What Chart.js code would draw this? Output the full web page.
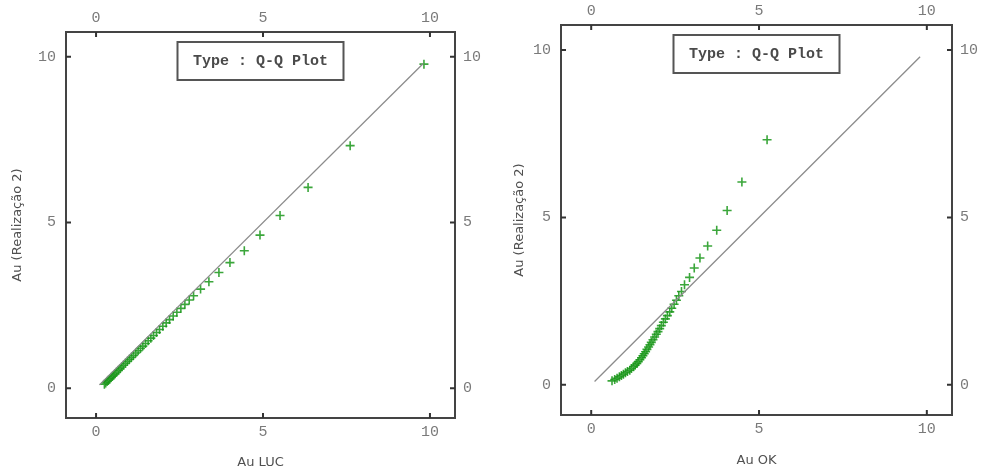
<!DOCTYPE html>
<html lang="pt">
<head>
  <meta charset="UTF-8">
  <title>Q-Q Plot</title>
  <script src="https://cdn.jsdelivr.net/npm/chart.js"></script>
  <style>
    body {
      margin: 0;
      background-color: #ffffff;
    }
    .panel {
      position: absolute;
      top: 0;
      width: 491px;
      height: 472px;
    }
  </style>
</head>
<body>
  <div class="panel" style="left:0"><canvas id="qqLuc" width="491" height="472"></canvas></div>
  <div class="panel" style="left:491px"><canvas id="qqOk" width="491" height="472"></canvas></div>

  <script>
    const tickValues = [0, 5, 10];

    // quantiles of Au (Realização 2), shared by both panels
    const realizacao2 = [0.12, 0.16, 0.20, 0.24, 0.28, 0.32, 0.36, 0.40, 0.44, 0.49,
      0.54, 0.59, 0.64, 0.69, 0.75, 0.81, 0.87, 0.93, 0.99, 1.06,
      1.13, 1.20, 1.27, 1.35, 1.43, 1.51, 1.59, 1.68, 1.77, 1.87,
      1.97, 2.07, 2.18, 2.29, 2.41, 2.53, 2.66, 2.79, 2.99, 3.21,
      3.49, 3.79, 4.15, 4.62, 5.21, 6.06, 7.32, 9.78];

    const auLuc = [0.25, 0.29, 0.33, 0.37, 0.41, 0.45, 0.49, 0.53, 0.57, 0.62,
      0.67, 0.72, 0.77, 0.82, 0.88, 0.94, 1.00, 1.06, 1.12, 1.19,
      1.26, 1.33, 1.40, 1.48, 1.56, 1.64, 1.72, 1.81, 1.90, 2.00,
      2.10, 2.20, 2.31, 2.42, 2.54, 2.66, 2.79, 2.92, 3.13, 3.38,
      3.68, 4.01, 4.44, 4.91, 5.51, 6.35, 7.61, 9.82];

    const auOk = [0.62, 0.70, 0.77, 0.84, 0.90, 0.96, 1.02, 1.08, 1.15, 1.20,
      1.26, 1.31, 1.36, 1.40, 1.45, 1.50, 1.54, 1.58, 1.62, 1.66,
      1.71, 1.75, 1.79, 1.84, 1.89, 1.94, 1.99, 2.04, 2.09, 2.15,
      2.21, 2.27, 2.34, 2.40, 2.47, 2.54, 2.61, 2.69, 2.78, 2.93,
      3.07, 3.24, 3.47, 3.74, 4.05, 4.49, 5.24, null];

    const refLine = [0.1, 9.8];

    const AXIS_MIN = -0.9;
    const AXIS_MAX = 10.75;

    // inward tick marks and the "Type" box
    const frameDecor = {
      id: 'frameDecor',
      afterDatasetsDraw(chart, args, opts) {
        const { ctx, chartArea: a, scales } = chart;
        ctx.save();
        ctx.strokeStyle = '#333';
        ctx.lineWidth = 2;
        ctx.beginPath();
        tickValues.forEach(v => {
          const x = scales.x.getPixelForValue(v);
          const y = scales.y.getPixelForValue(v);
          ctx.moveTo(x, a.bottom); ctx.lineTo(x, a.bottom - 5);
          ctx.moveTo(x, a.top); ctx.lineTo(x, a.top + 5);
          ctx.moveTo(a.left, y); ctx.lineTo(a.left + 5, y);
          ctx.moveTo(a.right, y); ctx.lineTo(a.right - 5, y);
        });
        ctx.stroke();

        const w = 166, h = 38;
        const bx = (a.left + a.right) / 2 - w / 2;
        const by = a.top + 10;
        ctx.fillStyle = '#fff';
        ctx.fillRect(bx, by, w, h);
        ctx.strokeStyle = '#555';
        ctx.lineWidth = 2;
        ctx.strokeRect(bx, by, w, h);
        ctx.fillStyle = '#4a4a4a';
        ctx.font = 'bold 15px "Liberation Mono", monospace';
        ctx.textAlign = 'center';
        ctx.textBaseline = 'middle';
        ctx.fillText(opts.text, bx + w / 2, by + h / 2);
        ctx.restore();
      }
    };

    function axis(position, size, pad, title, titlePad) {
      const horizontal = position === 'top' || position === 'bottom';
      return {
        type: 'linear',
        position: position,
        min: AXIS_MIN,
        max: AXIS_MAX,
        afterBuildTicks: s => { s.ticks = tickValues.map(v => ({ value: v })); },
        afterFit: s => { if (horizontal) s.height = size; else s.width = size; },
        ticks: {
          color: '#7a7a7a',
          padding: pad,
          maxRotation: 0,
          font: { family: '"Liberation Mono", monospace', size: 15 }
        },
        grid: { display: true, drawOnChartArea: false, drawTicks: false },
        border: { display: true, color: '#444', width: 2 },
        title: {
          display: !!title,
          text: title || '',
          color: '#505050',
          padding: titlePad || 0,
          font: { family: '"DejaVu Sans", sans-serif', size: 13 }
        }
      };
    }

    function createChart(id, xValues, xTitle, dims) {
      const points = [];
      xValues.forEach((x, i) => {
        if (x !== null) points.push({ x: x, y: realizacao2[i] });
      });

      new Chart(document.getElementById(id), {
        type: 'scatter',
        data: {
          datasets: [
            {
              data: refLine.map(v => ({ x: v, y: v })),
              showLine: true,
              borderColor: '#8c8c8c',
              borderWidth: 1.3,
              pointRadius: 0
            },
            {
              data: points,
              pointStyle: 'cross',
              pointRadius: 4.5,
              borderWidth: 1.6,
              borderColor: 'rgba(25, 150, 25, 0.85)'
            }
          ]
        },
        options: {
          responsive: false,
          animation: false,
          layout: { padding: 0 },
          plugins: {
            legend: { display: false },
            tooltip: { enabled: false },
            frameDecor: { text: 'Type : Q-Q Plot' }
          },
          scales: {
            x: axis('bottom', dims.bottom, 5, xTitle, { top: 0, bottom: dims.xTitlePad }),
            x2: axis('top', dims.top, 5),
            y: axis('left', dims.left, 10, 'Au (Realização 2)', { top: dims.yTitlePad, bottom: 0 }),
            y2: axis('right', dims.right, 8)
          }
        },
        plugins: [frameDecor]
      });
    }

    createChart('qqLuc', auLuc, 'Au LUC', { left: 66, right: 36, top: 32, bottom: 54, xTitlePad: 2, yTitlePad: 10 });
    createChart('qqOk', auOk, 'Au OK', { left: 70, right: 30, top: 25, bottom: 57, xTitlePad: 4, yTitlePad: 21 });
  </script>
</body>
</html>
